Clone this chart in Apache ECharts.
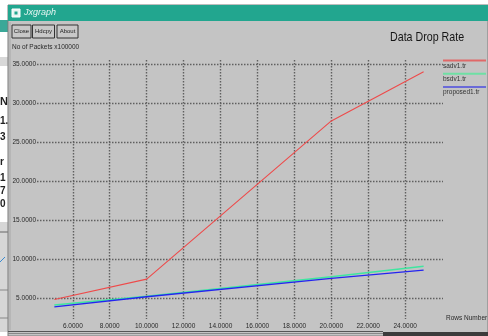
<!DOCTYPE html>
<html>
<head>
<meta charset="utf-8">
<script src="https://cdn.jsdelivr.net/npm/echarts@6/dist/echarts.min.js"></script>
<style>
  html, body { margin: 0; padding: 0; background: #ffffff; }
  #chart { width: 488px; height: 336px; }
</style>
</head>
<body>
<div id="chart"></div>
<script>
// Rows number (x) sampled for each trace file
const rows = [5, 10, 20, 25];
// Dropped packets (x100000) per trace file
const sadv1 = [4.85, 7.45, 27.7, 34.0];
const bsdv1 = [4.15, 5.25, 7.75, 9.1];
const proposed1 = [3.9, 5.2, 7.55, 8.6];

const seriesNames = ['sadv1.tr', 'bsdv1.tr', 'proposed1.tr'];
const seriesColors = ['#ee4a4a', '#3fe6a0', '#2424f0'];
const legendColors = ['#e06868', '#6ee0a4', '#6a6ad8'];

const xTicks = [6, 8, 10, 12, 14, 16, 18, 20, 22, 24];
const yTicks = [5, 10, 15, 20, 25, 30, 35];

const FONT = "'Liberation Sans', Arial, sans-serif";
const BODY = '#c4c4c4';
const TEAL = '#22a68f';
const SMALL = 6.5;

function pairs(ys) { return rows.map((x, i) => [x, ys[i]]); }

const gridStyle = { color: '#606060', width: 1.4, type: [1.5, 1.5] };

// window chrome, buttons and the partially hidden window behind
const chrome = [
  // fragments of the window underneath (left edge)
  { type: 'rect', shape: { x: 0, y: 20, width: 8, height: 12 }, style: { fill: '#3aa898' }, z: 1 },
  { type: 'rect', shape: { x: 0, y: 57, width: 8, height: 9 }, style: { fill: '#d8d8d8' }, z: 1 },
  { type: 'text', x: 0, y: 96, style: { text: 'N', font: 'bold 11px ' + FONT, fill: '#222' }, z: 1 },
  { type: 'text', x: 0, y: 116, style: { text: '1.', font: 'bold 10px ' + FONT, fill: '#222' }, z: 1 },
  { type: 'text', x: 0, y: 132, style: { text: '3', font: 'bold 10px ' + FONT, fill: '#222' }, z: 1 },
  { type: 'text', x: 0, y: 157, style: { text: 'r', font: 'bold 10px ' + FONT, fill: '#222' }, z: 1 },
  { type: 'text', x: 0, y: 173, style: { text: '1', font: 'bold 10px ' + FONT, fill: '#222' }, z: 1 },
  { type: 'text', x: 0, y: 186, style: { text: '7', font: 'bold 10px ' + FONT, fill: '#222' }, z: 1 },
  { type: 'text', x: 0, y: 199, style: { text: '0', font: 'bold 10px ' + FONT, fill: '#222' }, z: 1 },
  { type: 'rect', shape: { x: 0, y: 222, width: 8, height: 110 }, style: { fill: '#d6d6d6' }, z: 1 },
  { type: 'line', shape: { x1: 0, y1: 232, x2: 8, y2: 232 }, style: { stroke: '#666', lineWidth: 1 }, z: 1 },
  { type: 'line', shape: { x1: 0, y1: 262, x2: 5, y2: 257 }, style: { stroke: '#3a8ad0', lineWidth: 1 }, z: 1 },
  { type: 'line', shape: { x1: 0, y1: 290, x2: 8, y2: 290 }, style: { stroke: '#888', lineWidth: 1 }, z: 1 },
  { type: 'line', shape: { x1: 0, y1: 318, x2: 8, y2: 318 }, style: { stroke: '#888', lineWidth: 1 }, z: 1 },
  // window body
  { type: 'rect', shape: { x: 8, y: 5, width: 480, height: 331 }, style: { fill: BODY, stroke: '#7a7a7a', lineWidth: 1 }, z: 2 },
  { type: 'line', shape: { x1: 10, y1: 22, x2: 10, y2: 330 }, style: { stroke: '#a8a8a8', lineWidth: 1 }, z: 3 },
  // title bar
  { type: 'rect', shape: { x: 8, y: 5, width: 480, height: 16 }, style: { fill: TEAL }, z: 3 },
  { type: 'rect', shape: { x: 12, y: 9, width: 8, height: 8 }, style: { fill: '#e8f4f2', stroke: '#ffffff', lineWidth: 1 }, z: 4 },
  { type: 'rect', shape: { x: 14.5, y: 11.5, width: 3, height: 3 }, style: { fill: TEAL }, z: 5 },
  { type: 'text', x: 24, y: 8, style: { text: 'Jxgraph', font: 'italic 9px ' + FONT, fill: '#e8f6f3' }, z: 4 },
  // buttons
  { type: 'rect', shape: { x: 12, y: 25, width: 19, height: 13 }, style: { fill: '#c8c8c8', stroke: '#333', lineWidth: 1 }, z: 4 },
  { type: 'text', x: 21.5, y: 31.5, style: { text: 'Close', font: '6px ' + FONT, fill: '#222', align: 'center', verticalAlign: 'middle' }, z: 5 },
  { type: 'rect', shape: { x: 32.5, y: 25, width: 22, height: 13 }, style: { fill: '#c8c8c8', stroke: '#333', lineWidth: 1 }, z: 4 },
  { type: 'text', x: 43.5, y: 31.5, style: { text: 'Hdcpy', font: '6px ' + FONT, fill: '#222', align: 'center', verticalAlign: 'middle' }, z: 5 },
  { type: 'rect', shape: { x: 57, y: 25, width: 21, height: 13 }, style: { fill: '#c8c8c8', stroke: '#333', lineWidth: 1 }, z: 4 },
  { type: 'text', x: 67.5, y: 31.5, style: { text: 'About', font: '6px ' + FONT, fill: '#222', align: 'center', verticalAlign: 'middle' }, z: 5 },
  // y axis unit label
  { type: 'text', x: 12, y: 44, style: { text: 'No of Packets x100000', font: SMALL + 'px ' + FONT, fill: '#2a2a2a' }, z: 5 },
  // x axis name
  { type: 'text', x: 446, y: 315, style: { text: 'Rows Number', font: SMALL + 'px ' + FONT, fill: '#2a2a2a' }, z: 5 },
  // chart title, slightly condensed
  { type: 'text', x: 390, y: 31, scaleX: 0.82, style: { text: 'Data Drop Rate', font: '13px ' + FONT, fill: '#151515' }, z: 5 },
  // bottom border and status strip
  { type: 'line', shape: { x1: 8, y1: 331.5, x2: 383, y2: 331.5 }, style: { stroke: '#555', lineWidth: 1 }, z: 4 },
  { type: 'line', shape: { x1: 8, y1: 333.5, x2: 383, y2: 333.5 }, style: { stroke: '#888', lineWidth: 1 }, z: 4 },
  { type: 'rect', shape: { x: 383, y: 332, width: 105, height: 4 }, style: { fill: '#3c3c3c' }, z: 4 }
];

// legend: coloured bar above each file name
const legendItems = [];
seriesNames.forEach((name, i) => {
  const y = 60.5 + i * 13.3;
  legendItems.push({ type: 'line', shape: { x1: 443, y1: y, x2: 486, y2: y }, style: { stroke: legendColors[i], lineWidth: 2 }, z: 6 });
  legendItems.push({ type: 'text', x: 443, y: y + 1.8, style: { text: name, font: SMALL + 'px ' + FONT, fill: '#333' }, z: 6 });
});

const chart = echarts.init(document.getElementById('chart'), null, { renderer: 'canvas' });
chart.setOption({
  backgroundColor: '#ffffff',
  animation: false,
  graphic: chrome.concat(legendItems),
  grid: { left: 37, right: 45, top: 60, bottom: 17, containLabel: false, z: 7 },
  xAxis: {
    type: 'value', min: 4.06, max: 26.05,
    axisLine: { show: false },
    axisTick: { show: false, customValues: xTicks },
    axisLabel: {
      customValues: xTicks, margin: 4,
      fontFamily: FONT, fontSize: SMALL, color: '#2a2a2a',
      formatter: v => v.toFixed(4)
    },
    splitLine: { show: true, lineStyle: gridStyle },
    z: 7
  },
  yAxis: {
    type: 'value', min: 2.35, max: 35.5,
    axisLine: { show: false },
    axisTick: { show: false, customValues: yTicks },
    axisLabel: {
      customValues: yTicks, margin: 1,
      fontFamily: FONT, fontSize: SMALL, color: '#2a2a2a',
      formatter: v => v.toFixed(4)
    },
    splitLine: { show: true, lineStyle: gridStyle },
    z: 7
  },
  series: [
    { name: seriesNames[0], type: 'line', data: pairs(sadv1), symbol: 'none', lineStyle: { color: seriesColors[0], width: 1.1 }, z: 8 },
    { name: seriesNames[1], type: 'line', data: pairs(bsdv1), symbol: 'none', lineStyle: { color: seriesColors[1], width: 1.5 }, z: 8 },
    { name: seriesNames[2], type: 'line', data: pairs(proposed1), symbol: 'none', lineStyle: { color: seriesColors[2], width: 1.4 }, z: 9 }
  ]
});
</script>
</body>
</html>
